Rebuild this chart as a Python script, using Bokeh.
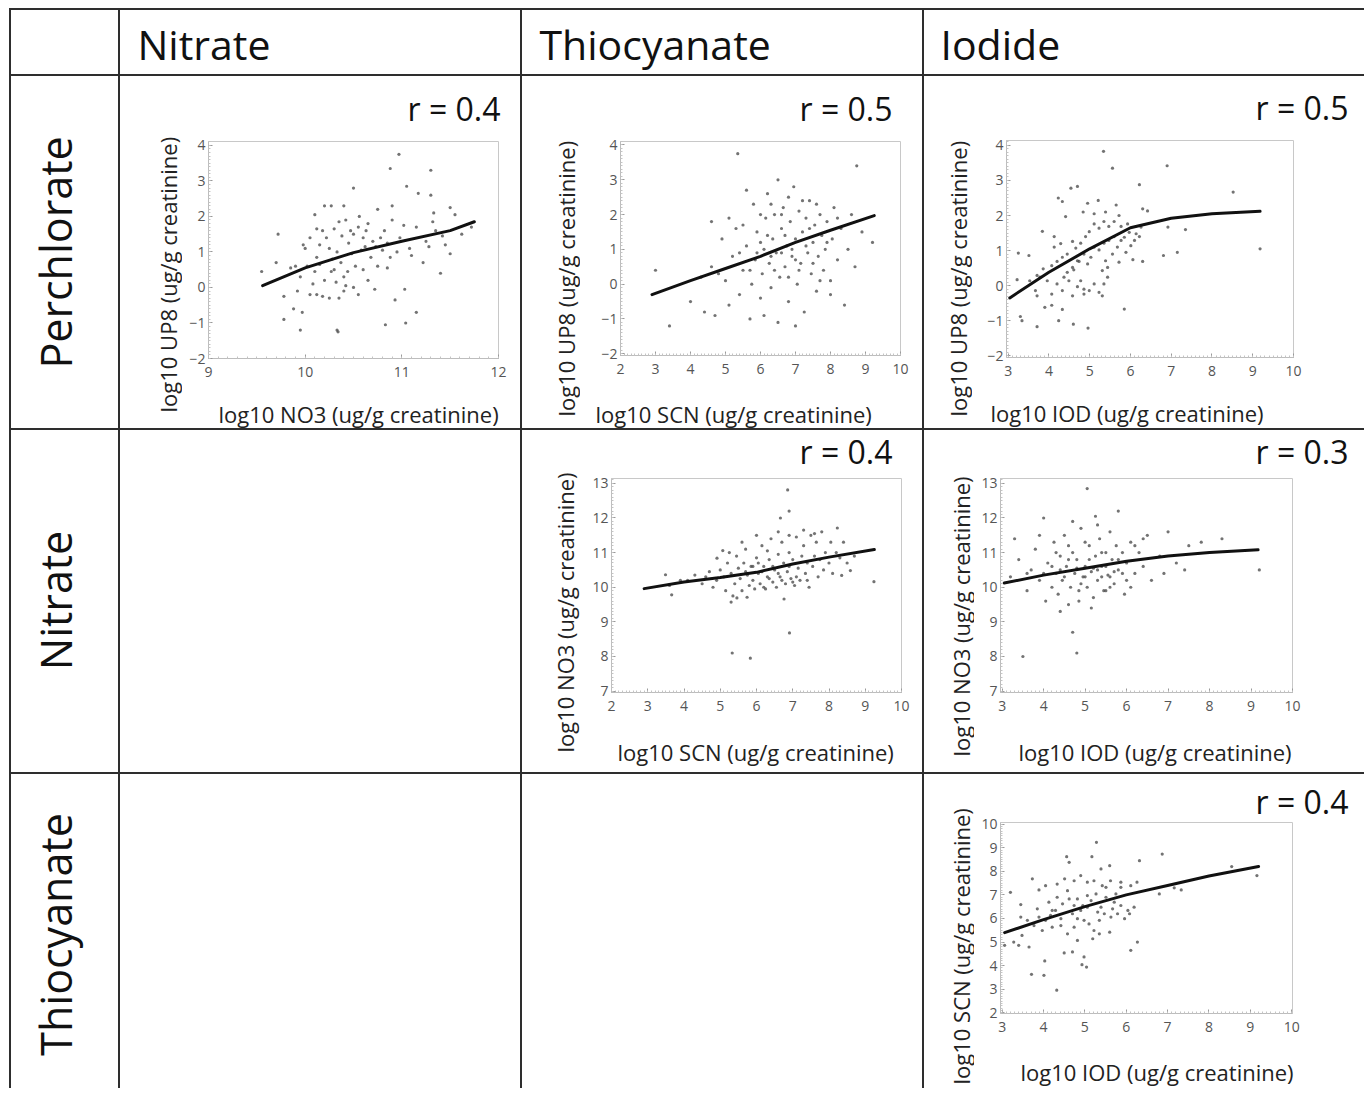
import math
from bokeh.plotting import figure
from bokeh.layouts import row, column
from bokeh.models import Div, Range1d, SingleIntervalTicker, Title
from bokeh.core.properties import value
from bokeh.embed import file_html
from bokeh.resources import INLINE

# ---------------- data ----------------
col_headers = ["Nitrate", "Thiocyanate", "Iodide"]
row_headers = ["Perchlorate", "Nitrate", "Thiocyanate"]

# Panel A: x = log10 NO3, y = log10 UP8
a_points = [(10.97,3.75),(10.88,3.35),(11.3,3.3),(10.5,2.8),(11.05,2.85),(11.3,2.6),(11.17,2.65),(10.75,2.2),(10.9,2.3),(11.5,2.25),(11.55,2.05),(11.33,2.1),(10.2,2.3),(10.1,2.05),(10.27,2.3),(10.4,2.3),(9.55,0.45),(9.72,1.5),(9.7,0.7),(9.78,-0.25),(9.78,-0.9),(9.95,-1.2),(10.33,-1.2),(10.34,-1.25),(10.83,-1.05),(11.04,-1.0),(11.15,-0.7),(10.93,-0.35),(11.03,-0.05),(11.4,0.4),(11.5,0.95),(11.72,1.7),(11.62,1.5),(11.45,1.2),(11.28,1.15),(11.1,0.9),(11.25,1.3),(11.35,1.6),(11.15,1.7),(11.02,1.75),(11.22,0.7),(10.98,1.4),(11.08,1.1),(10.88,0.85),(10.8,1.05),(10.75,0.6),(10.65,0.2),(10.72,-0.05),(10.85,0.55),(10.6,1.4),(10.55,1.7),(10.65,1.8),(10.5,1.5),(10.45,1.25),(10.48,0.95),(10.52,0.6),(10.4,0.3),(10.42,0.05),(10.35,-0.3),(10.3,0.5),(10.28,0.8),(10.25,1.1),(10.22,1.4),(10.18,1.6),(10.15,1.2),(10.12,0.85),(10.1,0.45),(10.08,0.1),(10.05,-0.2),(10.02,0.6),(10.0,1.1),(9.98,1.2),(9.95,0.3),(9.92,-0.1),(9.9,0.6),(9.88,-0.6),(9.85,0.55),(9.97,-0.7),(10.12,-0.2),(10.18,-0.25),(10.25,-0.3),(10.2,0.2),(10.3,1.65),(10.35,1.85),(10.42,1.9),(10.38,1.45),(10.33,1.0),(10.37,0.7),(10.44,0.45),(10.5,0.0),(10.55,-0.2),(10.6,0.5),(10.58,1.05),(10.62,1.15),(10.68,0.85),(10.7,1.3),(10.78,1.4),(10.82,1.6),(10.9,1.9),(10.85,1.25),(10.95,1.0),(10.12,1.65),(10.05,1.4),(10.15,0.65),(10.27,0.45),(10.32,0.15),(10.4,-0.1),(10.47,1.6),(10.56,2.0),(10.63,1.6),(10.73,1.15),(11.32,1.85),(11.42,1.45)]
a_fit_x = [9.56, 10.0, 10.5, 11.0, 11.5, 11.75]
a_fit_y = [0.05, 0.55, 0.98, 1.3, 1.6, 1.85]

# Panel B: x = log10 SCN, y = log10 UP8
b_points = [(3.0,0.4),(3.4,-1.2),(4.0,-0.5),(4.3,0.2),(4.6,0.5),(4.7,-0.9),(4.9,1.3),(5.0,0.1),(5.1,-0.6),(5.2,0.8),(5.3,1.6),(5.35,3.75),(5.4,-0.3),(5.5,0.4),(5.6,1.1),(5.7,-1.0),(5.75,0.0),(5.8,2.3),(5.85,0.7),(5.9,1.5),(6.0,-0.4),(6.05,0.3),(6.1,1.0),(6.15,1.9),(6.2,2.6),(6.25,0.6),(6.3,-0.1),(6.35,1.3),(6.4,2.0),(6.45,0.9),(6.5,-1.1),(6.55,0.2),(6.6,1.6),(6.65,2.2),(6.7,0.5),(6.75,1.1),(6.8,-0.5),(6.85,1.8),(6.9,0.8),(6.95,2.8),(7.0,1.3),(7.05,0.0),(7.1,2.1),(7.15,0.6),(7.2,1.5),(7.25,-0.8),(7.3,1.9),(7.35,0.9),(7.4,2.4),(7.45,0.3),(7.5,1.2),(7.55,1.7),(7.6,-0.2),(7.65,0.8),(7.7,2.0),(7.75,1.4),(7.8,0.4),(7.85,1.0),(7.9,1.8),(8.0,0.1),(8.05,1.3),(8.1,2.2),(8.2,0.7),(8.3,1.6),(8.4,-0.6),(8.5,1.0),(8.6,2.0),(8.7,0.5),(8.75,3.4),(8.9,1.5),(9.2,1.2),(5.6,2.7),(6.0,2.0),(6.3,2.3),(6.6,2.0),(6.8,2.5),(7.2,2.4),(7.6,2.3),(5.1,1.9),(5.5,1.7),(4.6,1.8),(6.5,3.0),(7.0,-1.2),(6.1,-0.9),(5.9,0.9),(6.2,1.4),(6.4,0.4),(6.7,1.4),(6.9,1.0),(7.1,0.4),(7.3,1.1),(7.5,0.6),(7.7,0.1),(6.0,1.2),(6.3,0.8),(6.6,0.9),(6.8,0.2),(7.0,0.7),(7.4,1.6),(5.7,0.4),(5.4,0.9),(4.8,0.3),(4.4,-0.8),(8.2,1.9),(8.0,-0.3),(7.9,1.2)]
b_fit_x = [2.9, 4.0, 5.0, 6.0, 7.0, 8.0, 9.25]
b_fit_y = [-0.3, 0.1, 0.45, 0.8, 1.2, 1.55, 1.97]

# Panel C: x = log10 IOD, y = log10 UP8
c_points = [(5.34,3.83),(5.56,3.35),(6.9,3.42),(8.52,2.67),(9.18,1.05),(6.22,2.88),(4.54,2.78),(4.7,2.83),(4.23,2.5),(4.33,2.4),(3.84,1.55),(3.25,0.93),(3.51,0.86),(3.22,0.17),(3.3,-0.88),(3.34,-1.0),(3.71,-1.17),(3.9,-0.62),(4.07,-0.56),(4.33,-0.68),(4.24,-1.0),(4.6,-1.1),(4.96,-1.21),(5.85,-0.67),(6.06,0.74),(6.3,0.69),(6.81,0.86),(7.15,0.95),(7.35,1.6),(6.92,1.67),(6.3,2.19),(6.42,2.13),(5.65,2.3),(5.21,2.43),(4.95,2.35),(4.84,2.1),(4.41,1.97),(4.13,1.4),(4.29,1.2),(4.13,1.1),(3.71,0.29),(3.67,-0.14),(3.71,-0.29),(3.96,0.14),(4.2,0.05),(4.45,0.38),(4.49,0.14),(4.61,0.45),(4.74,0.69),(4.78,0.14),(4.86,-0.1),(4.99,-0.14),(5.11,0.05),(5.23,-0.19),(5.35,0.05),(5.31,0.43),(5.44,0.52),(5.39,0.71),(5.56,0.9),(5.68,1.1),(5.77,1.29),(5.85,1.38),(5.97,1.52),(6.1,1.29),(6.14,1.48),(6.22,1.4),(5.93,1.76),(5.77,1.69),(5.6,1.83),(5.47,1.69),(5.35,1.83),(5.23,1.64),(5.11,1.76),(4.99,1.54),(4.9,1.4),(4.78,1.21),(4.66,1.07),(4.58,1.26),(4.45,0.9),(4.33,0.81),(4.2,0.69),(4.07,0.57),(3.86,0.48),(3.78,0.24),(3.53,0.14),(5.11,1.1),(5.23,1.02),(5.35,1.21),(5.47,1.29),(5.6,1.4),(5.03,0.81),(4.95,0.62),(4.86,0.9),(4.7,0.71),(4.58,0.52),(4.37,0.24),(4.7,-0.03),(4.86,-0.24),(4.58,-0.29),(4.33,-0.14),(4.07,-0.24),(5.44,0.24),(5.31,-0.29),(5.72,0.67),(5.89,0.95),(6.01,1.14),(6.26,1.67),(5.11,2.05),(5.39,2.1),(5.72,2.0)]
c_fit_x = [3.04, 4.0, 5.0, 6.0, 7.0, 8.0, 9.18]
c_fit_y = [-0.35, 0.38, 1.05, 1.65, 1.92, 2.05, 2.12]

# Panel D: x = log10 SCN, y = log10 NO3
d_points = [(6.86,12.81),(6.9,12.2),(6.66,12.0),(5.33,8.1),(5.83,7.95),(6.91,8.68),(9.24,10.16),(3.49,10.36),(3.66,9.78),(8.23,11.71),(8.59,10.48),(8.35,10.34),(5.07,11.06),(4.91,10.84),(5.3,9.57),(5.46,9.69),(5.74,9.71),(6.76,9.66),(4.1,10.2),(4.3,10.35),(4.5,10.1),(4.7,10.45),(4.8,10.0),(4.9,10.2),(5.0,10.5),(5.1,10.3),(5.15,9.9),(5.2,10.7),(5.3,10.4),(5.35,9.75),(5.4,10.1),(5.45,10.9),(5.5,10.55),(5.55,10.25),(5.6,9.9),(5.65,10.7),(5.7,11.1),(5.75,10.35),(5.8,10.05),(5.85,10.6),(5.9,10.2),(5.95,9.95),(6.0,10.85),(6.05,10.4),(6.1,10.1),(6.15,11.2),(6.2,10.6),(6.25,9.95),(6.3,10.3),(6.35,10.8),(6.4,11.4),(6.45,10.15),(6.5,10.5),(6.55,10.0),(6.6,10.95),(6.65,10.3),(6.7,11.3),(6.75,10.7),(6.8,10.1),(6.85,10.45),(6.9,11.0),(6.95,10.25),(7.0,10.8),(7.05,10.05),(7.1,11.45),(7.15,10.55),(7.2,10.2),(7.25,10.9),(7.3,11.2),(7.35,10.4),(7.4,10.7),(7.45,10.0),(7.5,11.5),(7.55,10.6),(7.6,10.9),(7.65,11.3),(7.7,10.3),(7.75,10.8),(7.8,11.6),(7.85,10.5),(7.9,11.0),(8.0,10.7),(8.05,11.3),(8.1,10.4),(8.2,11.0),(8.3,10.85),(8.4,11.3),(8.5,10.7),(8.7,10.9),(3.6,10.05),(3.9,10.2),(4.6,10.3),(5.25,11.0),(5.6,11.3),(6.0,11.5),(6.3,11.05),(6.6,11.6),(6.9,11.5),(7.3,11.65),(7.6,11.55),(5.9,10.6),(6.15,10.45),(6.45,10.6),(6.7,10.2),(6.9,10.6),(7.1,10.3),(7.4,10.2),(6.2,10.0),(6.6,10.4),(7.0,10.15),(6.35,10.25),(5.7,10.45),(6.05,10.7)]
d_fit_x = [2.9, 4.0, 5.0, 6.0, 7.0, 8.0, 9.25]
d_fit_y = [9.96, 10.15, 10.28, 10.43, 10.67, 10.87, 11.09]

# Panel E: x = log10 IOD, y = log10 NO3
e_points = [(3.2,10.3),(3.4,10.8),(3.5,8.0),(3.6,9.9),(3.7,10.5),(3.8,11.1),(3.9,10.2),(4.0,12.0),(4.05,9.6),(4.1,10.7),(4.2,10.0),(4.25,11.3),(4.3,10.4),(4.35,9.8),(4.4,10.9),(4.45,10.2),(4.5,11.5),(4.55,10.6),(4.6,9.5),(4.65,10.0),(4.7,8.7),(4.7,11.0),(4.75,10.4),(4.8,8.1),(4.8,10.8),(4.85,9.9),(4.9,11.7),(4.95,10.3),(5.05,12.85),(5.0,10.6),(5.05,10.0),(5.1,11.2),(5.15,10.45),(5.2,9.7),(5.25,12.05),(5.25,10.9),(5.3,10.2),(5.35,11.4),(5.4,10.6),(5.45,9.9),(5.5,11.0),(5.55,10.35),(5.6,11.6),(5.65,10.8),(5.7,10.1),(5.75,11.2),(5.8,10.5),(5.9,11.0),(5.95,9.8),(6.0,10.7),(6.1,11.3),(6.2,10.4),(6.3,11.0),(6.4,10.6),(6.5,11.5),(6.6,10.2),(6.8,10.9),(7.0,11.6),(7.2,10.7),(7.5,11.2),(7.8,11.3),(8.3,11.4),(9.2,10.5),(4.4,10.5),(4.6,10.8),(4.9,10.1),(5.1,10.8),(5.3,10.5),(5.5,10.6),(5.7,10.45),(4.5,10.3),(4.8,10.55),(5.0,10.3),(5.2,10.55),(5.4,10.3),(5.6,10.3),(5.8,10.8),(6.0,10.2),(4.2,10.6),(4.0,10.4),(3.6,10.4),(4.3,11.0),(4.6,11.2),(5.0,11.3),(5.4,11.0),(5.6,10.0),(5.9,10.4),(6.2,11.2),(3.3,11.4),(6.4,11.4),(5.15,9.4),(4.85,9.6),(4.4,9.3),(5.5,9.9),(6.1,10.0),(7.4,10.5),(6.9,10.4),(3.9,11.5),(5.3,11.8),(4.7,11.9),(5.8,12.2)]
e_fit_x = [3.05, 4.0, 5.0, 6.0, 7.0, 8.0, 9.17]
e_fit_y = [10.12, 10.35, 10.55, 10.75, 10.9, 11.0, 11.08]

# Panel F: x = log10 IOD, y = log10 SCN
f_points = [(5.28,9.23),(5.17,8.62),(4.56,8.62),(4.62,8.38),(6.87,8.73),(6.32,8.45),(5.6,8.24),(5.39,8.1),(8.55,8.2),(9.16,7.82),(3.2,7.11),(3.45,6.59),(3.73,7.68),(3.89,7.21),(4.05,7.39),(4.33,7.46),(4.51,7.68),(4.74,7.6),(4.9,7.82),(5.06,7.54),(5.22,7.6),(5.42,7.39),(5.62,7.6),(5.87,7.54),(6.11,7.39),(6.26,7.54),(6.8,7.04),(7.16,7.3),(7.33,7.21),(3.06,4.86),(3.28,5.0),(3.4,4.86),(3.48,5.28),(3.65,4.79),(3.71,3.63),(4.01,3.59),(4.03,4.2),(4.32,2.96),(4.5,4.54),(4.93,4.04),(5.04,3.94),(4.98,4.37),(5.35,5.35),(5.6,5.42),(6.11,4.65),(6.27,5.0),(6.19,6.48),(6.04,6.34),(5.87,6.55),(5.71,6.69),(5.51,6.9),(5.27,7.04),(5.15,6.76),(5.06,6.48),(4.9,6.34),(4.74,6.55),(4.62,6.83),(4.46,6.62),(4.29,6.34),(4.17,6.13),(4.05,5.92),(3.89,6.06),(3.77,5.7),(3.61,5.92),(3.97,5.49),(4.21,5.63),(4.42,5.7),(4.58,5.35),(4.74,5.63),(4.82,5.99),(4.98,5.92),(5.1,5.77),(5.22,5.49),(5.35,5.92),(5.47,6.2),(5.63,6.06),(5.79,6.2),(5.96,5.99),(6.08,6.2),(5.67,6.41),(5.39,6.48),(4.82,6.83),(5.06,6.97),(4.58,7.18),(4.33,6.9),(4.13,6.69),(3.85,6.41),(3.45,6.06),(5.31,6.27),(4.95,6.55),(4.7,6.2),(4.42,5.99),(4.21,6.34),(5.19,5.14),(4.82,5.07),(4.7,4.58),(5.87,7.32),(5.51,7.32),(5.75,7.04)]
f_fit_x = [3.06, 4.0, 5.0, 6.0, 7.0, 8.0, 9.2]
f_fit_y = [5.4, 5.95, 6.5, 7.0, 7.4, 7.8, 8.2]

# ---------------- styling / layout ----------------
FONT = "Open Sans"
LINE = "#2e2e2e"
W = [107, 400, 400, 440]   # column widths (between 2px rules)
H = [64, 352, 342, 314]    # row heights
X0, Y0 = 9, 8              # page offset of the table's outer rules


def rule_h(w):
    return Div(width=w, height=2, margin=0, styles={"background-color": LINE})


def rule_v(h):
    return Div(width=2, height=h, margin=0, styles={"background-color": LINE})


def blank(w, h):
    return Div(width=w, height=h, margin=0)


def text_fig(w, h, items):
    """A borderless figure whose frame is the whole box; items are placed in
    pixel units measured from the box's top-left corner."""
    p = figure(width=w, height=h, output_backend="svg", toolbar_location=None,
               x_range=Range1d(0, w), y_range=Range1d(0, h), min_border=0,
               x_axis_location=None, y_axis_location=None, outline_line_color=None,
               title_location=None)
    p.grid.visible = False
    for it in items:
        p.text(x=[it["x"]], y=[h - it["y"]], text=[it["text"]], angle=it.get("angle", 0.0),
               text_align=it["align"], text_baseline="middle", text_font=value(FONT),
               text_font_size=it["size"], text_color=it.get("color", "#111111"))
    return p


def panel(spec):
    cx, cy, cw, ch = spec["cell"]
    fx0, fy0, fx1, fy1 = spec["frame"]
    r_in_title = spec.get("r_title", False)
    bb = 30
    sx0 = spec["split"]
    if r_in_title:
        # the scatter figure spans up to the cell top and to the cell's right edge;
        # the correlation text is a title above its frame
        sy0, sx1, tb, rb = cy, cx + cw, fy0 - cy, cx + cw - fx1
    else:
        tb, rb = spec["tb"], 10
        sy0, sx1 = fy0 - tb, fx1 + rb
    sy1 = fy1 + bb
    left_w = sx0 - cx
    right_w = cw - left_w
    top_h = sy0 - cy
    scat_w, scat_h = sx1 - sx0, sy1 - sy0
    bot_h = cy + ch - sy1

    p = figure(width=scat_w, height=scat_h, output_backend="svg", toolbar_location=None,
               x_range=Range1d(*spec["xr"]), y_range=Range1d(*spec["yr"]),
               min_border_left=fx0 - sx0, min_border_right=rb,
               min_border_top=tb, min_border_bottom=bb,
               background_fill_color="white", border_fill_color="white",
               title_location=None)
    p.grid.visible = False
    p.outline_line_color = "#c8c8c8"
    p.outline_line_width = 1
    for ax in (p.xaxis[0], p.yaxis[0]):
        ax.ticker = SingleIntervalTicker(interval=1, num_minor_ticks=10)
        ax.axis_line_color = "#bdbdbd"
        ax.major_tick_line_color = "#9a9a9a"
        ax.major_tick_in = 4
        ax.major_tick_out = 0
        ax.minor_tick_line_color = "#c4c4c4"
        ax.minor_tick_in = 2
        ax.minor_tick_out = 0
        ax.major_label_text_font = FONT
        ax.major_label_text_font_size = "14px"
        ax.major_label_text_color = "#555555"
    p.xaxis.major_label_standoff = 8
    p.yaxis.major_label_standoff = 3
    p.yaxis.major_label_overrides = {t: "\u2212" + str(-t) for t in range(-3, 0)}

    xs = [pt[0] for pt in spec["points"]]
    ys = [pt[1] for pt in spec["points"]]
    p.scatter(xs, ys, marker="circle", size=3.2, color="#444444", alpha=0.75, line_width=0)
    p.line(spec["fit"][0], spec["fit"][1], line_width=3, color="#111111", line_cap="round")

    left_strip = text_fig(left_w, ch, [dict(text=spec["ylab"], x=spec["ylab_c"][0] - cx,
                                            y=spec["ylab_c"][1] - cy, angle=math.pi / 2,
                                            align="left", size="22px", color="#222222")])
    bottom_strip = text_fig(right_w, bot_h, [dict(text=spec["xlab"], x=spec["xlab_c"][0] - sx0,
                                                  y=spec["xlab_c"][1] - sy1, align="left",
                                                  size="22px", color="#222222")])
    if r_in_title:
        p.add_layout(Title(text=spec["r"], align="right", offset=fx1 - spec["r_c"][0],
                           text_font=FONT, text_font_size="32px", text_font_style="normal",
                           text_color="#111111", standoff=0, vertical_align="bottom"), "above")
        # wrap the scatter figure in its own row so the strip below keeps its own frame
        right_col = column(row(p, spacing=0, margin=0), bottom_strip, spacing=0, margin=0)
    else:
        top_strip = text_fig(right_w, top_h, [dict(text=spec["r"], x=spec["r_c"][0] - sx0,
                                                   y=spec["r_c"][1] - cy, align="right", size="32px")])
        middle = row(p, blank(right_w - scat_w, scat_h), spacing=0, margin=0)
        right_col = column(top_strip, middle, bottom_strip, spacing=0, margin=0)
    return row(column(left_strip, spacing=0, margin=0), right_col, spacing=0, margin=0)


specs = {
    "A": dict(cell=(120, 76, 400, 352), frame=(208, 141, 498, 358), split=182, tb=8,
              xr=(9, 12), yr=(-2, 4.11), points=a_points, fit=(a_fit_x, a_fit_y),
              r="r = 0.4", r_c=(500, 108),
              ylab="log10 UP8 (ug/g creatinine)", ylab_c=(167, 412),
              xlab="log10 NO3 (ug/g creatinine)", xlab_c=(218, 413)),
    "B": dict(cell=(522, 76, 400, 352), frame=(620, 141, 900, 355), split=580, tb=8,
              xr=(2, 10), yr=(-2.05, 4.1), points=b_points, fit=(b_fit_x, b_fit_y),
              r="r = 0.5", r_c=(892, 108),
              ylab="log10 UP8 (ug/g creatinine)", ylab_c=(565, 416),
              xlab="log10 SCN (ug/g creatinine)", xlab_c=(595, 413)),
    "C": dict(cell=(924, 76, 440, 352), frame=(1006, 140, 1293, 357), split=972, tb=8,
              xr=(2.96, 10), yr=(-2.05, 4.14), points=c_points, fit=(c_fit_x, c_fit_y),
              r="r = 0.5", r_c=(1348, 107),
              ylab="log10 UP8  (ug/g creatinine)", ylab_c=(957, 416),
              xlab="log10 IOD (ug/g creatinine)", xlab_c=(990, 412)),
    "D": dict(cell=(522, 430, 400, 342), frame=(611, 478, 901, 692), split=580, tb=4,
              xr=(2, 10), yr=(6.96, 13.14), points=d_points, fit=(d_fit_x, d_fit_y),
              r="r = 0.4", r_c=(892, 451),
              ylab="log10 NO3 (ug/g creatinine)", ylab_c=(564, 752),
              xlab="log10 SCN (ug/g creatinine)", xlab_c=(617, 751)),
    "E": dict(cell=(924, 430, 440, 342), frame=(1000, 478, 1292, 692), split=974, tb=4,
              xr=(2.96, 10), yr=(6.96, 13.14), points=e_points, fit=(e_fit_x, e_fit_y),
              r="r = 0.3", r_c=(1348, 451),
              ylab="log10 NO3 (ug/g creatinine)", ylab_c=(960, 756),
              xlab="log10 IOD (ug/g creatinine)", xlab_c=(1018, 751)),
    "F": dict(cell=(924, 774, 440, 314), frame=(1000, 822, 1292, 1013), split=974, r_title=True,
              xr=(2.96, 10.02), yr=(1.97, 10.07), points=f_points, fit=(f_fit_x, f_fit_y),
              r="r = 0.4", r_c=(1348, 803),
              ylab="log10 SCN  (ug/g creatinine)", ylab_c=(960, 1084),
              xlab="log10 IOD (ug/g creatinine)", xlab_c=(1020, 1071)),
}


def header_cell(w, text, left):
    return text_fig(w, H[0], [dict(text=text, x=left, y=33, align="left", size="41px")])


def row_label(h, text, cy):
    return text_fig(W[0], h, [dict(text=text, x=44, y=cy, angle=math.pi / 2,
                                   align="center", size="43px")])


header = row(rule_v(H[0]), blank(W[0], H[0]), rule_v(H[0]),
             header_cell(W[1], col_headers[0], 17), rule_v(H[0]),
             header_cell(W[2], col_headers[1], 17), rule_v(H[0]),
             header_cell(W[3], col_headers[2], 16), spacing=0, margin=0)

row1 = row(rule_v(H[1]), row_label(H[1], row_headers[0], 176),
           rule_v(H[1]), panel(specs["A"]), rule_v(H[1]), panel(specs["B"]), rule_v(H[1]), panel(specs["C"]),
           spacing=0, margin=0)
row2 = row(rule_v(H[2]), row_label(H[2], row_headers[1], 170),
           rule_v(H[2]), blank(W[1], H[2]), rule_v(H[2]), panel(specs["D"]), rule_v(H[2]), panel(specs["E"]),
           spacing=0, margin=0)
row3 = row(rule_v(H[3]), row_label(H[3], row_headers[2], 160),
           rule_v(H[3]), blank(W[1], H[3]), rule_v(H[3]), blank(W[2], H[3]), rule_v(H[3]), panel(specs["F"]),
           spacing=0, margin=0)

total_w = 2 + W[0] + 2 + W[1] + 2 + W[2] + 2 + W[3]
table = column(rule_h(total_w), header, rule_h(total_w), row1, rule_h(total_w), row2,
               rule_h(total_w), row3, spacing=0, margin=0)
layout = column(blank(X0 + total_w, Y0),
                row(blank(X0, 1080), table, spacing=0, margin=0),
                spacing=0, margin=0)

open("out.html", "w").write(file_html(layout, INLINE))
